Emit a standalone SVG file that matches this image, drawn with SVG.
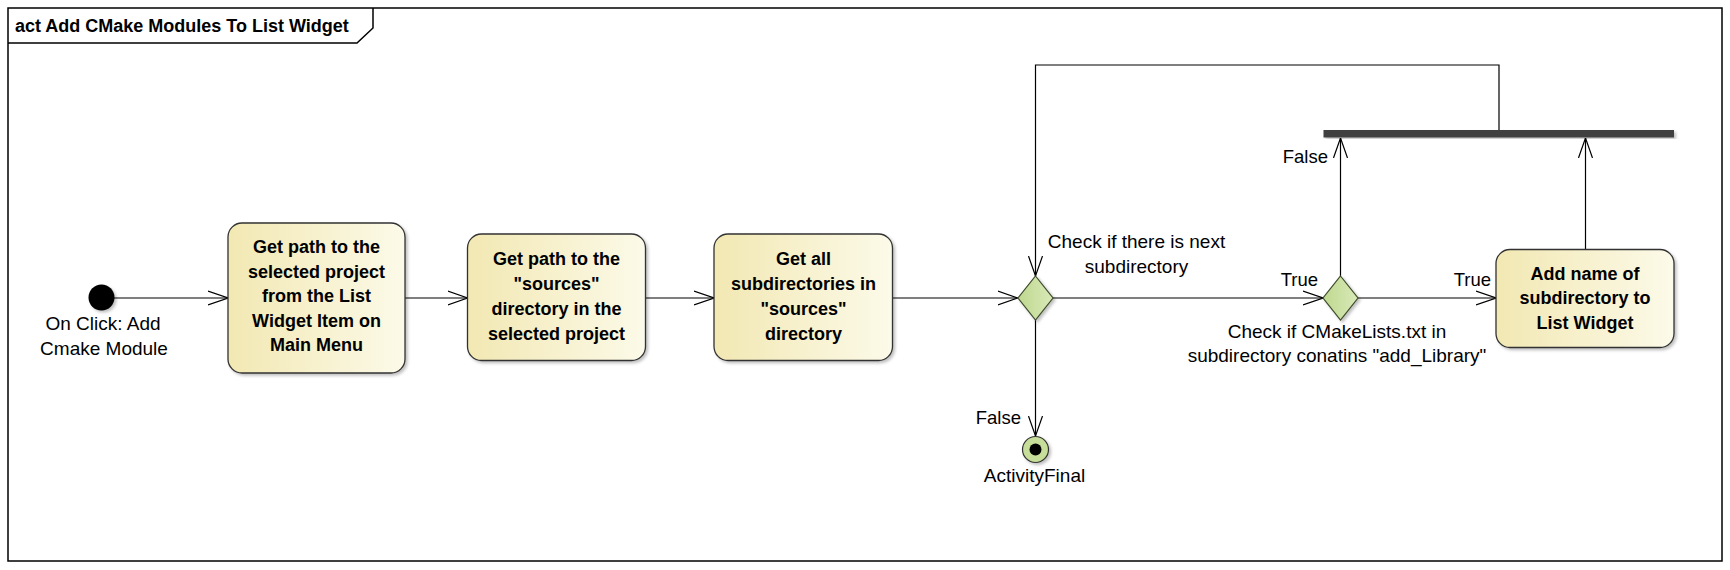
<svg xmlns="http://www.w3.org/2000/svg" width="1730" height="570" viewBox="0 0 1730 570">
<defs>
<style>
.frame{fill:none;stroke:#000;stroke-width:1.5}
.node{stroke:#333;stroke-width:1.3;fill:url(#gy)}
.dia{stroke:#3c4a2a;stroke-width:1.2;fill:url(#gg)}
.edge{fill:none;stroke:#000;stroke-width:1.2}
.b{font-family:"Liberation Sans",Arial,sans-serif;font-weight:bold;font-size:18px;fill:#000;text-anchor:middle}
.r{font-family:"Liberation Sans",Arial,sans-serif;font-size:19px;fill:#000;text-anchor:middle}
.re{font-family:"Liberation Sans",Arial,sans-serif;font-size:18.5px;fill:#000;text-anchor:end}
.t{font-family:"Liberation Sans",Arial,sans-serif;font-weight:bold;font-size:18px;fill:#000}
</style>
<linearGradient id="gy" x1="0" y1="0" x2="1" y2="0">
<stop offset="0" stop-color="#F2E8B3"/>
<stop offset="1" stop-color="#FCFAE9"/>
</linearGradient>
<linearGradient id="gg" x1="0" y1="0" x2="1" y2="0">
<stop offset="0" stop-color="#BFD88F"/>
<stop offset="1" stop-color="#D8E9B8"/>
</linearGradient>
<filter id="sh" x="-20%" y="-20%" width="140%" height="140%">
<feDropShadow dx="2" dy="2" stdDeviation="1.5" flood-color="#000" flood-opacity="0.25"/>
</filter>
<marker id="arr" viewBox="0 0 20 16" refX="20" refY="8" markerWidth="20" markerHeight="16" markerUnits="userSpaceOnUse" orient="auto">
<path d="M0,1 L20,8 L0,15" fill="none" stroke="#000" stroke-width="1.2"/>
</marker>
</defs>
<rect x="0" y="0" width="1730" height="570" fill="#fff"/>
<g id="frame">
<rect class="frame" x="8" y="8" width="1714" height="553"/>
<path class="frame" d="M8,43 L357,43 L373,28 L373,8"/>
<text class="t" x="15" y="32">act Add CMake Modules To List Widget</text>
</g>
<g id="connectors">
<line class="edge" x1="114" y1="298" x2="228" y2="298" marker-end="url(#arr)"/>
<line class="edge" x1="405" y1="298" x2="467.5" y2="298" marker-end="url(#arr)"/>
<line class="edge" x1="645.5" y1="298" x2="714" y2="298" marker-end="url(#arr)"/>
<line class="edge" x1="892.5" y1="298" x2="1017.5" y2="298" marker-end="url(#arr)"/>
<line class="edge" x1="1052.5" y1="298" x2="1323" y2="298" marker-end="url(#arr)"/>
<line class="edge" x1="1358" y1="298" x2="1496" y2="298" marker-end="url(#arr)"/>
<line class="edge" x1="1035.5" y1="320" x2="1035.5" y2="436" marker-end="url(#arr)"/>
<line class="edge" x1="1340.5" y1="276" x2="1340.5" y2="138" marker-end="url(#arr)"/>
<line class="edge" x1="1585.5" y1="249" x2="1585.5" y2="138" marker-end="url(#arr)"/>
<path class="edge" d="M1499,130 L1499,65 L1035.5,65 L1035.5,276" marker-end="url(#arr)"/>
<text class="re" x="1318" y="286">True</text>
<text class="re" x="1491" y="286">True</text>
<text class="re" x="1021" y="424">False</text>
<text class="re" x="1328" y="163">False</text>
</g>
<g id="initial">
<circle cx="101.5" cy="297.5" r="13" fill="#000" filter="url(#sh)"/>
<text class="r" x="103" y="330">On Click: Add</text>
<text class="r" x="104" y="355">Cmake Module</text>
</g>
<g id="node1">
<rect class="node" x="228" y="223" width="177" height="150" rx="14" filter="url(#sh)"/>
<text class="b" x="316.5" y="253">Get path to the</text>
<text class="b" x="316.5" y="277.5">selected project</text>
<text class="b" x="316.5" y="302">from the List</text>
<text class="b" x="316.5" y="326.5">Widget Item on</text>
<text class="b" x="316.5" y="351">Main Menu</text>
</g>
<g id="node2">
<rect class="node" x="467.5" y="234" width="178" height="126.5" rx="14" filter="url(#sh)"/>
<text class="b" x="556.5" y="265">Get path to the</text>
<text class="b" x="556.5" y="290">"sources"</text>
<text class="b" x="556.5" y="315">directory in the</text>
<text class="b" x="556.5" y="339.5">selected project</text>
</g>
<g id="node3">
<rect class="node" x="714" y="234" width="178.5" height="126.5" rx="14" filter="url(#sh)"/>
<text class="b" x="803.5" y="265">Get all</text>
<text class="b" x="803.5" y="290">subdirectories in</text>
<text class="b" x="803.5" y="315">"sources"</text>
<text class="b" x="803.5" y="339.5">directory</text>
</g>
<g id="decision1">
<path class="dia" d="M1035.5,276 L1053,298 L1035.5,320 L1018,298 Z" filter="url(#sh)"/>
<text class="r" x="1136.5" y="247.5">Check if there is next</text>
<text class="r" x="1136.5" y="272.5">subdirectory</text>
</g>
<g id="decision2">
<path class="dia" d="M1340.5,276 L1358,298 L1340.5,320 L1323,298 Z" filter="url(#sh)"/>
<text class="r" x="1337" y="337.5">Check if CMakeLists.txt in</text>
<text class="r" x="1337" y="361.5">subdirectory conatins "add_Library"</text>
</g>
<g id="node4">
<rect class="node" x="1496" y="249.5" width="178" height="98" rx="14" filter="url(#sh)"/>
<text class="b" x="1585" y="279.5">Add name of</text>
<text class="b" x="1585" y="304">subdirectory to</text>
<text class="b" x="1585" y="329">List Widget</text>
</g>
<g id="join">
<rect x="1323.5" y="130" width="350.5" height="7.5" fill="#404040" filter="url(#sh)"/>
</g>
<g id="final">
<circle cx="1035.5" cy="449.5" r="13" fill="#C6DE9A" stroke="#333" stroke-width="1.2" filter="url(#sh)"/>
<circle cx="1035.5" cy="449.5" r="6" fill="#000"/>
<text class="r" x="1034.5" y="481.5">ActivityFinal</text>
</g>
</svg>
